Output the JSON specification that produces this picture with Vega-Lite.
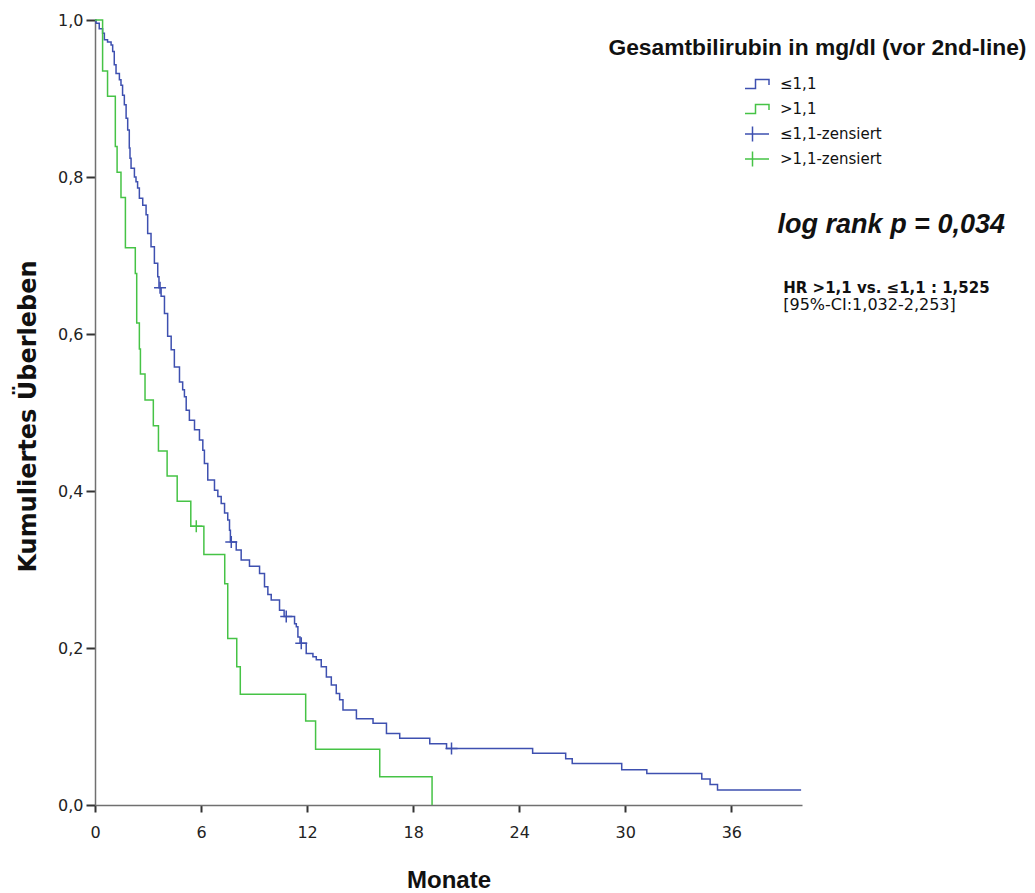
{
  "$schema": "https://vega.github.io/schema/vega-lite/v6.json",
  "autosize": {"type": "none"},
  "width": 707,
  "height": 785,
  "padding": {"left": 95, "top": 20, "right": 233, "bottom": 88},
  "background": "white",
  "config": {"view": {"stroke": null}},
  "datasets": {
    "kurven": [
      {"gruppe": "≤1,1", "monate": 0, "ueberleben": 1.0},
      {"gruppe": "≤1,1", "monate": 0.06, "ueberleben": 0.996},
      {"gruppe": "≤1,1", "monate": 0.24, "ueberleben": 0.989},
      {"gruppe": "≤1,1", "monate": 0.43, "ueberleben": 0.983},
      {"gruppe": "≤1,1", "monate": 0.53, "ueberleben": 0.975},
      {"gruppe": "≤1,1", "monate": 0.71, "ueberleben": 0.972},
      {"gruppe": "≤1,1", "monate": 0.91, "ueberleben": 0.968},
      {"gruppe": "≤1,1", "monate": 1.0, "ueberleben": 0.96},
      {"gruppe": "≤1,1", "monate": 1.09, "ueberleben": 0.943},
      {"gruppe": "≤1,1", "monate": 1.19, "ueberleben": 0.932},
      {"gruppe": "≤1,1", "monate": 1.38, "ueberleben": 0.924},
      {"gruppe": "≤1,1", "monate": 1.47, "ueberleben": 0.917},
      {"gruppe": "≤1,1", "monate": 1.56, "ueberleben": 0.904},
      {"gruppe": "≤1,1", "monate": 1.66, "ueberleben": 0.892},
      {"gruppe": "≤1,1", "monate": 1.76, "ueberleben": 0.875},
      {"gruppe": "≤1,1", "monate": 1.85, "ueberleben": 0.86},
      {"gruppe": "≤1,1", "monate": 1.94, "ueberleben": 0.837},
      {"gruppe": "≤1,1", "monate": 1.98, "ueberleben": 0.824},
      {"gruppe": "≤1,1", "monate": 2.04, "ueberleben": 0.811},
      {"gruppe": "≤1,1", "monate": 2.23, "ueberleben": 0.8},
      {"gruppe": "≤1,1", "monate": 2.32, "ueberleben": 0.794},
      {"gruppe": "≤1,1", "monate": 2.41, "ueberleben": 0.786},
      {"gruppe": "≤1,1", "monate": 2.51, "ueberleben": 0.773},
      {"gruppe": "≤1,1", "monate": 2.7, "ueberleben": 0.764},
      {"gruppe": "≤1,1", "monate": 2.89, "ueberleben": 0.752},
      {"gruppe": "≤1,1", "monate": 2.98, "ueberleben": 0.728},
      {"gruppe": "≤1,1", "monate": 3.17, "ueberleben": 0.711},
      {"gruppe": "≤1,1", "monate": 3.36, "ueberleben": 0.69},
      {"gruppe": "≤1,1", "monate": 3.55, "ueberleben": 0.673},
      {"gruppe": "≤1,1", "monate": 3.62, "ueberleben": 0.659},
      {"gruppe": "≤1,1", "monate": 3.74, "ueberleben": 0.648},
      {"gruppe": "≤1,1", "monate": 3.93, "ueberleben": 0.626},
      {"gruppe": "≤1,1", "monate": 4.11, "ueberleben": 0.597},
      {"gruppe": "≤1,1", "monate": 4.31, "ueberleben": 0.58},
      {"gruppe": "≤1,1", "monate": 4.49, "ueberleben": 0.558},
      {"gruppe": "≤1,1", "monate": 4.78, "ueberleben": 0.539},
      {"gruppe": "≤1,1", "monate": 4.96, "ueberleben": 0.529},
      {"gruppe": "≤1,1", "monate": 5.06, "ueberleben": 0.52},
      {"gruppe": "≤1,1", "monate": 5.16, "ueberleben": 0.503},
      {"gruppe": "≤1,1", "monate": 5.34, "ueberleben": 0.49},
      {"gruppe": "≤1,1", "monate": 5.63, "ueberleben": 0.478},
      {"gruppe": "≤1,1", "monate": 5.91, "ueberleben": 0.465},
      {"gruppe": "≤1,1", "monate": 6.1, "ueberleben": 0.452},
      {"gruppe": "≤1,1", "monate": 6.19, "ueberleben": 0.435},
      {"gruppe": "≤1,1", "monate": 6.38, "ueberleben": 0.414},
      {"gruppe": "≤1,1", "monate": 6.76, "ueberleben": 0.401},
      {"gruppe": "≤1,1", "monate": 6.95, "ueberleben": 0.393},
      {"gruppe": "≤1,1", "monate": 7.14, "ueberleben": 0.384},
      {"gruppe": "≤1,1", "monate": 7.33, "ueberleben": 0.372},
      {"gruppe": "≤1,1", "monate": 7.51, "ueberleben": 0.363},
      {"gruppe": "≤1,1", "monate": 7.61, "ueberleben": 0.35},
      {"gruppe": "≤1,1", "monate": 7.66, "ueberleben": 0.335},
      {"gruppe": "≤1,1", "monate": 7.99, "ueberleben": 0.325},
      {"gruppe": "≤1,1", "monate": 8.27, "ueberleben": 0.312},
      {"gruppe": "≤1,1", "monate": 8.74, "ueberleben": 0.304},
      {"gruppe": "≤1,1", "monate": 9.31, "ueberleben": 0.295},
      {"gruppe": "≤1,1", "monate": 9.59, "ueberleben": 0.278},
      {"gruppe": "≤1,1", "monate": 9.78, "ueberleben": 0.268},
      {"gruppe": "≤1,1", "monate": 9.97, "ueberleben": 0.261},
      {"gruppe": "≤1,1", "monate": 10.44, "ueberleben": 0.248},
      {"gruppe": "≤1,1", "monate": 10.7, "ueberleben": 0.24},
      {"gruppe": "≤1,1", "monate": 11.29, "ueberleben": 0.231},
      {"gruppe": "≤1,1", "monate": 11.39, "ueberleben": 0.227},
      {"gruppe": "≤1,1", "monate": 11.48, "ueberleben": 0.214},
      {"gruppe": "≤1,1", "monate": 11.6, "ueberleben": 0.206},
      {"gruppe": "≤1,1", "monate": 11.95, "ueberleben": 0.193},
      {"gruppe": "≤1,1", "monate": 12.33, "ueberleben": 0.189},
      {"gruppe": "≤1,1", "monate": 12.52, "ueberleben": 0.185},
      {"gruppe": "≤1,1", "monate": 12.8, "ueberleben": 0.176},
      {"gruppe": "≤1,1", "monate": 13.09, "ueberleben": 0.163},
      {"gruppe": "≤1,1", "monate": 13.37, "ueberleben": 0.153},
      {"gruppe": "≤1,1", "monate": 13.65, "ueberleben": 0.142},
      {"gruppe": "≤1,1", "monate": 13.84, "ueberleben": 0.134},
      {"gruppe": "≤1,1", "monate": 14.03, "ueberleben": 0.121},
      {"gruppe": "≤1,1", "monate": 14.79, "ueberleben": 0.11},
      {"gruppe": "≤1,1", "monate": 15.73, "ueberleben": 0.104},
      {"gruppe": "≤1,1", "monate": 16.49, "ueberleben": 0.091},
      {"gruppe": "≤1,1", "monate": 17.24, "ueberleben": 0.085},
      {"gruppe": "≤1,1", "monate": 18.94, "ueberleben": 0.078},
      {"gruppe": "≤1,1", "monate": 19.89, "ueberleben": 0.072},
      {"gruppe": "≤1,1", "monate": 24.76, "ueberleben": 0.066},
      {"gruppe": "≤1,1", "monate": 26.63, "ueberleben": 0.059},
      {"gruppe": "≤1,1", "monate": 27.0, "ueberleben": 0.053},
      {"gruppe": "≤1,1", "monate": 29.8, "ueberleben": 0.045},
      {"gruppe": "≤1,1", "monate": 31.22, "ueberleben": 0.04},
      {"gruppe": "≤1,1", "monate": 34.33, "ueberleben": 0.033},
      {"gruppe": "≤1,1", "monate": 34.8, "ueberleben": 0.026},
      {"gruppe": "≤1,1", "monate": 35.22, "ueberleben": 0.019},
      {"gruppe": "≤1,1", "monate": 39.95, "ueberleben": 0.019},
      {"gruppe": ">1,1", "monate": 0, "ueberleben": 1.0},
      {"gruppe": ">1,1", "monate": 0.43, "ueberleben": 0.935},
      {"gruppe": ">1,1", "monate": 0.71, "ueberleben": 0.903},
      {"gruppe": ">1,1", "monate": 1.15, "ueberleben": 0.839},
      {"gruppe": ">1,1", "monate": 1.25, "ueberleben": 0.806},
      {"gruppe": ">1,1", "monate": 1.47, "ueberleben": 0.774},
      {"gruppe": ">1,1", "monate": 1.72, "ueberleben": 0.71},
      {"gruppe": ">1,1", "monate": 2.28, "ueberleben": 0.677},
      {"gruppe": ">1,1", "monate": 2.36, "ueberleben": 0.614},
      {"gruppe": ">1,1", "monate": 2.51, "ueberleben": 0.581},
      {"gruppe": ">1,1", "monate": 2.57, "ueberleben": 0.549},
      {"gruppe": ">1,1", "monate": 2.83, "ueberleben": 0.516},
      {"gruppe": ">1,1", "monate": 3.3, "ueberleben": 0.483},
      {"gruppe": ">1,1", "monate": 3.59, "ueberleben": 0.451},
      {"gruppe": ">1,1", "monate": 4.08, "ueberleben": 0.419},
      {"gruppe": ">1,1", "monate": 4.65, "ueberleben": 0.387},
      {"gruppe": ">1,1", "monate": 5.42, "ueberleben": 0.355},
      {"gruppe": ">1,1", "monate": 6.16, "ueberleben": 0.319},
      {"gruppe": ">1,1", "monate": 7.34, "ueberleben": 0.282},
      {"gruppe": ">1,1", "monate": 7.51, "ueberleben": 0.212},
      {"gruppe": ">1,1", "monate": 8.02, "ueberleben": 0.176},
      {"gruppe": ">1,1", "monate": 8.22, "ueberleben": 0.141},
      {"gruppe": ">1,1", "monate": 11.92, "ueberleben": 0.107},
      {"gruppe": ">1,1", "monate": 12.48, "ueberleben": 0.071},
      {"gruppe": ">1,1", "monate": 16.11, "ueberleben": 0.036},
      {"gruppe": ">1,1", "monate": 19.07, "ueberleben": 0.0}
    ],
    "zensiert": [
      {"gruppe": "≤1,1-zensiert", "monate": 3.68, "ueberleben": 0.659},
      {"gruppe": "≤1,1-zensiert", "monate": 7.71, "ueberleben": 0.335},
      {"gruppe": "≤1,1-zensiert", "monate": 10.82, "ueberleben": 0.24},
      {"gruppe": "≤1,1-zensiert", "monate": 11.67, "ueberleben": 0.206},
      {"gruppe": "≤1,1-zensiert", "monate": 20.17, "ueberleben": 0.072},
      {"gruppe": ">1,1-zensiert", "monate": 5.73, "ueberleben": 0.355}
    ],
    "anmerkung": [{}]
  },
  "layer": [
    {
      "data": {"name": "kurven"},
      "mark": {"type": "line", "interpolate": "step-after", "strokeWidth": 1.5, "clip": false},
      "encoding": {
        "x": {
          "field": "monate", "type": "quantitative",
          "scale": {"domain": [0, 40], "nice": false, "zero": false},
          "axis": {
            "title": "Monate",
            "values": [0, 6, 12, 18, 24, 30, 36],
            "grid": false,
            "labelFlush": false,
            "domainColor": "#707070", "domainWidth": 1.5,
            "tickColor": "#333333", "tickWidth": 2, "tickSize": 7,
            "labelFont": "DejaVu Sans", "labelFontSize": 16, "labelColor": "#222222",
            "labelPadding": 12,
            "titleFont": "Liberation Sans", "titleFontSize": 24, "titleFontWeight": "bold", "titleColor": "#111111",
            "titleY": 82, "titleBaseline": "alphabetic"
          }
        },
        "y": {
          "field": "ueberleben", "type": "quantitative",
          "scale": {"domain": [0, 1], "nice": false},
          "axis": {
            "title": "Kumuliertes Überleben",
            "values": [0, 0.2, 0.4, 0.6, 0.8, 1.0],
            "labelExpr": "replace(format(datum.value, '.1f'), '.', ',')",
            "grid": false,
            "labelFlush": false,
            "domainColor": "#707070", "domainWidth": 1.5,
            "tickColor": "#333333", "tickWidth": 2, "tickSize": 9,
            "labelFont": "DejaVu Sans", "labelFontSize": 16, "labelColor": "#222222",
            "labelPadding": 3,
            "titleFont": "DejaVu Sans", "titleFontSize": 24, "titleFontWeight": "bold", "titleColor": "#111111",
            "titleX": -60, "titleY": 396, "titleAngle": -90, "titleBaseline": "alphabetic", "titleAlign": "center"
          }
        },
        "color": {
          "field": "gruppe", "type": "nominal",
          "scale": {
            "domain": ["≤1,1", ">1,1", "≤1,1-zensiert", ">1,1-zensiert"],
            "range": ["#3E50B0", "#46C346", "#3E50B0", "#46C346"]
          },
          "legend": {
            "title": null,
            "orient": "none",
            "legendX": 650,
            "legendY": 56,
            "padding": 0,
            "symbolSize": 100,
            "symbolStrokeWidth": 1.5,
            "symbolFillColor": "transparent",
            "labelOffset": 20,
            "labelFont": "DejaVu Sans",
            "labelFontSize": 15,
            "labelColor": "#111111",
            "clipHeight": 16,
            "rowPadding": 9,
            "encode": {
              "symbols": {
                "update": {
                  "shape": {"signal": "indexof(datum.value, 'zensiert') >= 0 ? 'M-3.3,0L3.3,0M0,-1.5L0,1.5' : 'M-3.3,0.9L0.6,0.9L0.6,-0.9L3.3,-0.9L3.3,0.2'"},
                  "fill": {"value": "transparent"},
                  "strokeWidth": {"value": 1.5}
                }
              }
            }
          }
        }
      }
    },
    {
      "data": {"name": "zensiert"},
      "mark": {"type": "point", "shape": "M-1,0L1,0M0,-1L0,1", "size": 144, "filled": false, "strokeWidth": 1.5, "opacity": 1},
      "encoding": {
        "x": {"field": "monate", "type": "quantitative"},
        "y": {"field": "ueberleben", "type": "quantitative"},
        "color": {"field": "gruppe", "type": "nominal"}
      }
    },
    {
      "data": {"name": "anmerkung"},
      "mark": {"type": "text", "text": "Gesamtbilirubin in mg/dl (vor 2nd-line)", "align": "left", "baseline": "alphabetic", "font": "Liberation Sans", "fontSize": 22.8, "fontWeight": "bold", "color": "#111111", "clip": false},
      "encoding": {
        "x": {"datum": 29.05, "type": "quantitative"},
        "y": {"datum": 0.955, "type": "quantitative"}
      }
    },
    {
      "data": {"name": "anmerkung"},
      "mark": {"type": "text", "text": "log rank p = 0,034", "align": "left", "baseline": "alphabetic", "font": "Liberation Sans", "fontSize": 27, "fontWeight": "bold", "fontStyle": "italic", "color": "#111111", "clip": false},
      "encoding": {
        "x": {"datum": 38.62, "type": "quantitative"},
        "y": {"datum": 0.7287, "type": "quantitative"}
      }
    },
    {
      "data": {"name": "anmerkung"},
      "mark": {"type": "text", "text": "HR >1,1 vs.  ≤1,1 : 1,525", "align": "left", "baseline": "alphabetic", "font": "DejaVu Sans", "fontSize": 15, "fontWeight": "bold", "color": "#111111", "clip": false},
      "encoding": {
        "x": {"datum": 38.94, "type": "quantitative"},
        "y": {"datum": 0.6522, "type": "quantitative"}
      }
    },
    {
      "data": {"name": "anmerkung"},
      "mark": {"type": "text", "text": "[95%-CI:1,032-2,253]", "align": "left", "baseline": "alphabetic", "font": "DejaVu Sans", "fontSize": 16, "color": "#111111", "clip": false},
      "encoding": {
        "x": {"datum": 38.94, "type": "quantitative"},
        "y": {"datum": 0.6306, "type": "quantitative"}
      }
    }
  ]
}
